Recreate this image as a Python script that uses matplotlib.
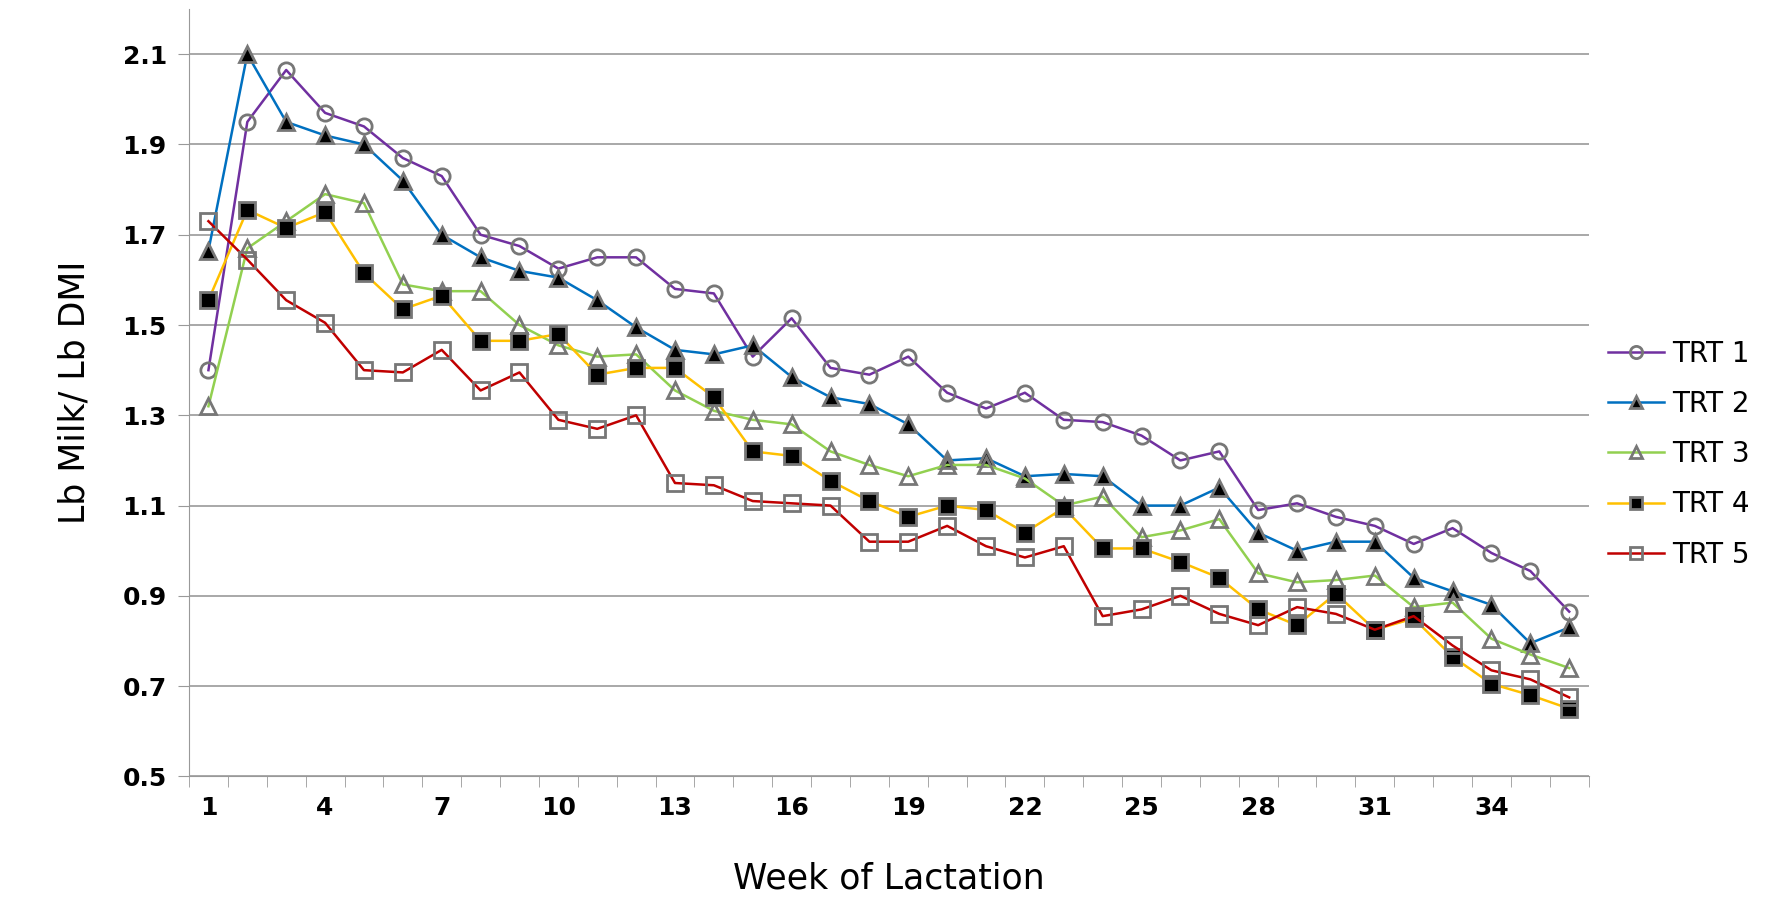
import numpy as np
import matplotlib
matplotlib.use('Agg')
import matplotlib.pyplot as plt
from matplotlib.ticker import FixedLocator

weeks = list(range(1, 37))
trt1 = [1.40, 1.95, 2.065, 1.97, 1.94, 1.87, 1.83, 1.70, 1.675, 1.625, 1.65, 1.65, 1.58, 1.57, 1.43, 1.515,
        1.405, 1.39, 1.43, 1.35, 1.315, 1.35, 1.29, 1.285, 1.255, 1.20, 1.22, 1.09, 1.105, 1.075, 1.055,
        1.015, 1.05, 0.995, 0.955, 0.865]
trt2 = [1.665, 2.10, 1.95, 1.92, 1.90, 1.82, 1.70, 1.65, 1.62, 1.605, 1.555, 1.495, 1.445, 1.435, 1.455,
        1.385, 1.34, 1.325, 1.28, 1.20, 1.205, 1.165, 1.17, 1.165, 1.10, 1.10, 1.14, 1.04, 1.00, 1.02, 1.02,
        0.94, 0.91, 0.88, 0.795, 0.83]
trt3 = [1.32, 1.67, 1.73, 1.79, 1.77, 1.59, 1.575, 1.575, 1.50, 1.455, 1.43, 1.435, 1.355, 1.31, 1.29, 1.28,
        1.22, 1.19, 1.165, 1.19, 1.19, 1.16, 1.10, 1.12, 1.03, 1.045, 1.07, 0.95, 0.93, 0.935, 0.945, 0.875,
        0.885, 0.805, 0.77, 0.74]
trt4 = [1.555, 1.755, 1.715, 1.75, 1.615, 1.535, 1.565, 1.465, 1.465, 1.48, 1.39, 1.405, 1.405, 1.34, 1.22,
        1.21, 1.155, 1.11, 1.075, 1.10, 1.09, 1.04, 1.095, 1.005, 1.005, 0.975, 0.94, 0.87, 0.835, 0.905,
        0.825, 0.85, 0.765, 0.705, 0.68, 0.65]
trt5 = [1.73, 1.645, 1.555, 1.505, 1.40, 1.395, 1.445, 1.355, 1.395, 1.29, 1.27, 1.30, 1.15, 1.145, 1.11,
        1.105, 1.10, 1.02, 1.02, 1.055, 1.01, 0.985, 1.01, 0.855, 0.87, 0.90, 0.86, 0.835, 0.875, 0.86,
        0.825, 0.855, 0.79, 0.735, 0.715, 0.675]

series = [
    ('TRT 1', trt1, '#7030A0', 'o', 'none'),
    ('TRT 2', trt2, '#0070C0', '^', 'black'),
    ('TRT 3', trt3, '#92D050', '^', 'none'),
    ('TRT 4', trt4, '#FFC000', 's', 'black'),
    ('TRT 5', trt5, '#C00000', 's', 'none'),
]

fig = plt.figure(figsize=(17.83, 9.07), dpi=100)
ax = fig.add_axes([0.106, 0.144, 0.785, 0.846])

for name, vals, col, mk, fc in series:
    ax.plot(weeks, vals, color=col, linewidth=1.8, marker=mk, markersize=11,
            markerfacecolor=fc, markeredgecolor='#777777', markeredgewidth=2, label=name)

ax.set_xlim(0.5, 36.5)
ax.set_ylim(0.5, 2.2)
ax.set_yticks([0.5, 0.7, 0.9, 1.1, 1.3, 1.5, 1.7, 1.9, 2.1])
ax.set_yticklabels(['0.5', '0.7', '0.9', '1.1', '1.3', '1.5', '1.7', '1.9', '2.1'])
ax.set_xticks(list(range(1, 37, 3)))
ax.xaxis.set_minor_locator(FixedLocator(np.arange(0.5, 37, 1)))
ax.tick_params(axis='x', which='major', length=0, pad=14, labelsize=18)
ax.tick_params(axis='x', which='minor', length=8, color='#999999')
ax.tick_params(axis='y', length=8, color='#999999', labelsize=18, pad=8)
for lab in ax.get_xticklabels() + ax.get_yticklabels():
    lab.set_fontweight('bold')
ax.grid(axis='y', color='#999999', linewidth=1.2)
ax.set_axisbelow(True)
for s in ['top', 'right']:
    ax.spines[s].set_visible(False)
ax.spines['left'].set_color('#999999')
ax.spines['bottom'].set_color('#999999')

ax.set_xlabel('Week of Lactation', fontsize=25, labelpad=30)
ax.set_ylabel('Lb Milk/ Lb DMI', fontsize=25, labelpad=22)

ax.legend(loc='center left', bbox_to_anchor=(1.0, 0.42), frameon=False, fontsize=20,
          handlelength=2.0, handletextpad=0.3, borderaxespad=0.3,
          labelspacing=0.8, markerscale=0.8)

fig.savefig('out.png', dpi=100)
